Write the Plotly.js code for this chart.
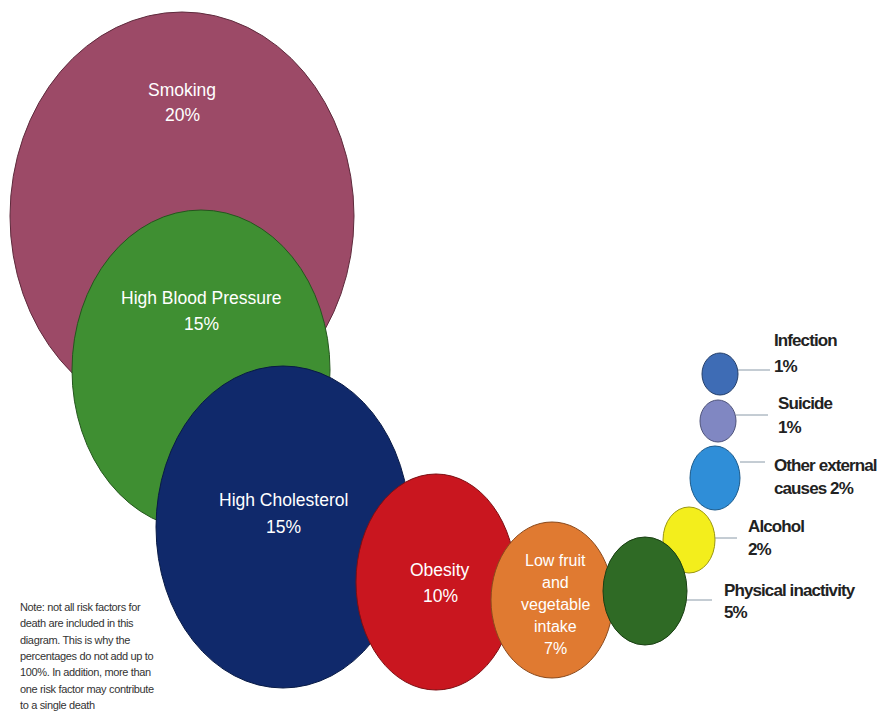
<!DOCTYPE html>
<html>
<head>
<meta charset="utf-8">
<script src="https://cdn.plot.ly/plotly-3.0.1.min.js"></script>
<style>
html,body{margin:0;padding:0;background:#fff;}
#chart{width:885px;height:711px;}
text.annotation-text[data-unformatted^="<b>"]{letter-spacing:-0.9px;}
text.annotation-text[data-unformatted^="Note"],
text.annotation-text[data-unformatted^="death"],
text.annotation-text[data-unformatted^="diagram"],
text.annotation-text[data-unformatted^="percent"],
text.annotation-text[data-unformatted^="100"],
text.annotation-text[data-unformatted^="one risk"],
text.annotation-text[data-unformatted^="to a single"]{letter-spacing:-0.35px;}
</style>
</head>
<body>
<div id="chart"></div>
<script>
// ---- data ----
const categories = ["Smoking", "High Blood Pressure", "High Cholesterol", "Obesity",
  "Low fruit and vegetable intake", "Alcohol", "Physical inactivity",
  "Other external causes", "Suicide", "Infection"];
const values = [20, 15, 15, 10, 7, 2, 5, 2, 1, 1];
// label lines (name part) for each category
const labelLines = [
  ["Smoking"], ["High Blood Pressure"], ["High Cholesterol"], ["Obesity"],
  ["Low fruit", "and", "vegetable", "intake"],
  ["Alcohol"], ["Physical inactivity"], ["Other external", "causes"], ["Suicide"], ["Infection"]
];
const labelInside = [true, true, true, true, true, false, false, false, false, false];
const noteLines = ["Note: not all risk factors for", "death are included in this",
  "diagram. This is why the", "percentages do not add up to",
  "100%. In addition, more than", "one risk factor may contribute", "to a single death"];

// ---- layout (positions / sizes / styles) ----
const cx = [182, 201, 283, 436, 552, 689, 645, 715, 718, 720];
const cy = [216, 370, 527, 582, 600, 540, 591, 478, 421, 374];
const rx = [172, 129, 127, 80, 61, 26, 42, 25, 18, 18];
const ry = [204, 160, 161, 108, 78, 33, 54, 32, 21, 21];
const fills = ["#9c4a67", "#3f8f32", "#10296b", "#c9161f", "#e07a31", "#f3ee1c", "#2f6a25", "#2f8ed8", "#8087c2", "#3e6cb5"];
const edges = ["#5e2a3c", "#24561d", "#081a45", "#7d0e12", "#8a4a1d", "#9a9612", "#1a4014", "#1c5a8a", "#4d527a", "#243f6b"];
// label anchor: x (center for inside, left for outside), y of first line, line spacing
const labX = [182, 201, 283, 440, 555, 746, 722, 772, 776, 772];
const labY = [90, 298, 500, 570, 560, 526, 590, 465, 403, 340];
const labGap = [25, 26, 27, 26, 22, 23, 22, 23, 24, 26];
const lineEndX = [0, 0, 0, 0, 0, 737, 712, 765, 768, 770];
const lineY = [0, 0, 0, 0, 0, 538, 600, 462, 415, 370];

const shapes = [];
const annotations = [];
for (let i = 0; i < categories.length; i++) {
  shapes.push({
    type: "circle", xref: "x", yref: "y",
    x0: cx[i] - rx[i], x1: cx[i] + rx[i], y0: cy[i] - ry[i], y1: cy[i] + ry[i],
    fillcolor: fills[i], line: {color: edges[i], width: 1}, layer: "above"
  });
}
for (let i = 0; i < categories.length; i++) {
  const lines = labelLines[i].slice();
  const pct = values[i] + "%";
  if (labelInside[i]) {
    lines.push(pct);
  } else if (lines.length > 1) {
    lines[lines.length - 1] = lines[lines.length - 1] + " " + pct;
  } else {
    lines.push(pct);
  }
  lines.forEach(function (t, n) {
    if (labelInside[i]) {
      annotations.push({
        x: labX[i], y: labY[i] + n * labGap[i], xref: "x", yref: "y", showarrow: false,
        text: t,
        font: {family: "Liberation Sans, Arial, sans-serif", size: i === 4 ? 16 : 17.5, color: "#ffffff"},
        xanchor: "center", yanchor: "middle"
      });
    } else {
      annotations.push({
        x: labX[i], y: labY[i] + n * labGap[i], xref: "x", yref: "y", showarrow: false,
        text: "<b>" + t + "</b>",
        font: {family: "Liberation Sans, Arial, sans-serif", size: 17, color: "#222222"},
        align: "left", xanchor: "left", yanchor: "middle"
      });
    }
  });
  if (!labelInside[i]) {
    shapes.push({
      type: "line", xref: "x", yref: "y",
      x0: cx[i] + rx[i], x1: lineEndX[i], y0: lineY[i], y1: lineY[i],
      line: {color: "#8a9aa8", width: 1}, layer: "below"
    });
  }
}
noteLines.forEach(function (t, n) {
  annotations.push({
    x: 18, y: 607 + n * 16.3, xref: "x", yref: "y", showarrow: false, text: t,
    font: {family: "Liberation Sans, Arial, sans-serif", size: 11, color: "#333333"},
    align: "left", xanchor: "left", yanchor: "middle"
  });
});

const layout = {
  width: 885, height: 711,
  margin: {l: 0, r: 0, t: 0, b: 0},
  paper_bgcolor: "#ffffff", plot_bgcolor: "#ffffff",
  xaxis: {range: [0, 885], visible: false, fixedrange: true},
  yaxis: {range: [711, 0], visible: false, fixedrange: true},
  showlegend: false,
  shapes: shapes,
  annotations: annotations
};
const trace = {x: cx, y: cy, mode: "markers", type: "scatter",
  marker: {size: 1, opacity: 0}, text: categories, hoverinfo: "text"};
Plotly.newPlot("chart", [trace], layout, {displayModeBar: false, staticPlot: true});
</script>
</body>
</html>
